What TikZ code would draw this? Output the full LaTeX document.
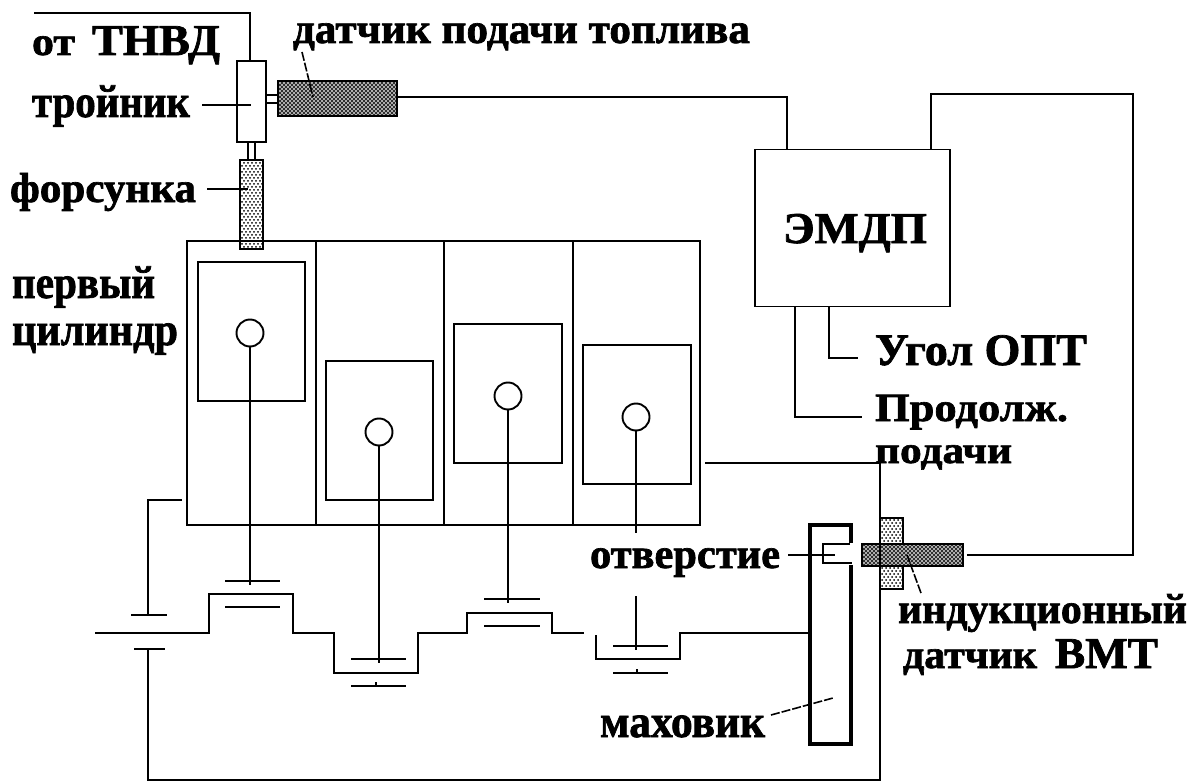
\documentclass[tikz,border=0pt]{standalone}
\usepackage{fontspec}
\usepackage{graphicx}
\setmainfont[BoldFeatures={FakeBold=1.6}]{Liberation Serif}
\usetikzlibrary{patterns}
\pgfdeclarepatternformonly{densedots}{\pgfqpoint{-1pt}{-1pt}}{\pgfqpoint{3pt}{3pt}}{\pgfqpoint{4pt}{4pt}}{%
  \pgfpathcircle{\pgfqpoint{0pt}{0pt}}{1.05pt}\pgfpathcircle{\pgfqpoint{2pt}{2pt}}{1.05pt}\pgfusepath{fill}}
\pgfdeclarepatternformonly{lightdots}{\pgfqpoint{-1pt}{-1pt}}{\pgfqpoint{3pt}{3pt}}{\pgfqpoint{4pt}{6pt}}{%
  \pgfpathcircle{\pgfqpoint{0pt}{0pt}}{1pt}\pgfpathcircle{\pgfqpoint{2pt}{3pt}}{1pt}\pgfusepath{fill}}
\newcommand{\fitw}[2]{\resizebox{#1pt}{\height}{#2}}
\begin{document}
\begin{tikzpicture}[x=1pt,y=-1pt,
  line width=1.9pt,
  wire/.style={line width=1.9pt,line join=miter},
  thin leader/.style={line width=1.6pt},
  dleader/.style={line width=1.6pt,dash pattern=on 9pt off 2pt},
  box/.style={draw,line width=1.9pt,fill=white,inner sep=0,outer sep=0,minimum width=#1},
  dark/.style={draw,line width=1.6pt,inner sep=0,outer sep=0,preaction={fill=black!30},pattern=densedots},
  light/.style={draw,line width=1.9pt,inner sep=0,outer sep=0,preaction={fill=white},pattern=lightdots},
  knob/.style={draw,circle,line width=1.9pt,fill=white,inner sep=0,minimum size=#1},
  plate/.style={line width=1.9pt},
  lab/.style={anchor=base west,inner sep=0,outer sep=0,font=\fontsize{#1}{#1}\selectfont\bfseries},
  lab/.default=42pt]
\useasboundingbox (0,0) rectangle (1189,781);
\fill[white] (0,0) rectangle (1189,781);

% engine block
\node[box=513pt,minimum height=284pt] (engine) at (443.5,383) {};
\coordinate (d1t) at (316,241);\coordinate (d1b) at (316,525);
\coordinate (d2t) at (444,241);\coordinate (d2b) at (444,525);
\coordinate (d3t) at (573,241);\coordinate (d3b) at (573,525);
\draw[wire] (d1t) -- (d1b) (d2t) -- (d2b) (d3t) -- (d3b);

% pistons
\node[box=107pt,minimum height=139pt] (p1) at (251.5,331.5) {};
\node[box=107pt,minimum height=139pt] (p2) at (379.5,430.5) {};
\node[box=108pt,minimum height=139pt] (p3) at (508,393.5) {};
\node[box=108pt,minimum height=139pt] (p4) at (637,414.5) {};
\coordinate (r1) at (250,585);\coordinate (r2) at (379,663);\coordinate (r3) at (508,603);\coordinate (r4) at (636,533);
\draw[wire] (250,333) -- (r1) (379,432) -- (r2) (508,396) -- (r3) (636,417) -- (r4);
\node[knob=27pt] (c1) at (250,333) {};
\node[knob=27pt] (c2) at (379,432) {};
\node[knob=27pt] (c3) at (508,396) {};
\node[knob=27pt] (c4) at (636,417) {};

% tee, injector, fuel sensor
\coordinate (pipeS) at (34,13);
\coordinate (teeIn) at (250,62);
\node[box=29pt,minimum height=81pt] (tee) at (251.5,101.5) {};
\draw[wire] (pipeS) -| (teeIn);
\draw[wire] (248,142) -- (248,160) (255,142) -- (255,160);
\node[light,minimum width=23pt,minimum height=89pt] (inj) at (251.5,204.5) {};
\draw[wire] (engine.north west) -- (engine.north east);
\draw[wire] (266,95) -- (278,95) (266,103) -- (278,103);
\node[dark,minimum width=119pt,minimum height=35pt] (fs) at (337.5,98.5) {};

% EMDP
\node[box=195pt,minimum height=157pt] (emdp) at (852.5,228) {};
\node[lab=44pt] (temdp) at (783,243) {\fitw{144}{ЭМДП}};
\coordinate (e1) at (787,150);\coordinate (e2) at (931,150);
\coordinate (e3) at (795,306);\coordinate (e4) at (829,306);
\coordinate (a3) at (862,417);\coordinate (a4) at (858,358);
\draw[wire] (fs.east |- 0,97) -| (e1);
\draw[wire] (e3) |- (a3);
\draw[wire] (e4) |- (a4);

% inductive sensor
\node[light,minimum width=23pt,minimum height=71pt] (vs) at (891.5,553.5) {};
\node[dark,minimum width=101pt,minimum height=22pt] (hs) at (912.5,555) {};
\coordinate (hsR) at (967,555);
\draw[wire] (e2) |- (1133,94) |- (hsR);

% flywheel
\draw[line width=4pt,line join=miter] (851,543) -- (851,525) -- (810,525) -- (810,744) -- (851,744) -- (851,565);
\coordinate (fw) at (808,633);
\coordinate (hole) at (823,544);
\draw[wire] (850,544) -- (hole) -- (823,563) -- (852,563);

% battery, shaft
\coordinate (bt) at (148,615);\coordinate (bb) at (148,649);
\coordinate (eb) at (182,500);\coordinate (ee) at (705,463);
\draw[wire] (eb) -| (bt);
\draw[wire] (131,615) -- (167,615);
\draw[wire] (134,649) -- (165,649);
\draw[wire] (bb) |- (880,780) -- (880,463) -- (ee);
\coordinate (sh0) at (95,633);\coordinate (sh1) at (584,633);
\draw[wire] (sh0) -- (209,633) -- (209,594) -- (293,594) -- (293,633) -- (334,633) -- (334,673) -- (418,673) -- (418,633) -- (467,633) -- (467,613) -- (552,613) -- (552,633) -- (sh1);
\draw[wire] (596,635) -- (596,659) -- (680,659) -- (680,633) -- (fw);

% plates
\draw[plate] (225,581) -- (280,581) (225,607) -- (280,607);
\draw[plate] (351,659) -- (406,659) (351,686) -- (406,686) (376,682) -- (376,686);
\draw[plate] (484,599) -- (540,599) (484,626) -- (540,626);
\draw[plate] (613,646) -- (668,646) (613,673) -- (668,673) (637,669) -- (637,673);
\draw[wire] (636,596) -- (636,650);

% leaders
\coordinate (l1a) at (202,105);\coordinate (l1b) at (251,105);
\coordinate (l2a) at (207,189);\coordinate (l2b) at (248,189);
\coordinate (l3a) at (302,52);\coordinate (l3b) at (313,97);
\coordinate (l4a) at (788,555);\coordinate (l4b) at (835,555);
\coordinate (l5a) at (771,715);\coordinate (l5b) at (833,698);
\coordinate (l6a) at (907,555);\coordinate (l6b) at (921,593);
\draw[thin leader] (l1a) -- (l1b) (l2a) -- (l2b) (l4a) -- (l4b);
\draw[dleader] (l3a) -- (l3b);
\draw[dleader] (l5a) -- (l5b);
\draw[dleader] (l6b) -- (l6a);

% labels
\node[lab=40pt] (t1) at (32,55) {\fitw{43}{от}};
\node[lab=44pt] (t2) at (92,55) {\fitw{128}{ТНВД}};
\node[lab=42pt] (t3) at (293,43) {\fitw{457}{датчик подачи топлива}};
\node[lab=46pt] (t4) at (32,117) {\fitw{158}{тройник}};
\node[lab=42pt] (t5) at (10,202) {\fitw{186}{форсунка}};
\node[lab=46pt] (t6) at (12,298) {\fitw{143}{первый}};
\node[lab=46pt] (t7) at (12,345) {\fitw{166}{цилиндр}};
\node[lab=45pt] (t8) at (875,365) {\fitw{212}{Угол ОПТ}};
\node[lab=40pt] (t9) at (875,421) {\fitw{193}{Продолж.}};
\node[lab=38pt] (t10) at (875,463) {\fitw{137}{подачи}};
\node[lab=42pt] (t11) at (590,568) {\fitw{190}{отверстие}};
\node[lab=42pt] (t12) at (898,623) {\fitw{289}{индукционный}};
\node[lab=40pt] (t13) at (903,668) {\fitw{134}{датчик}};
\node[lab=44pt] (t13b) at (1055,668) {\fitw{103}{ВМТ}};
\node[lab=46pt] (t14) at (600,737) {\fitw{165}{маховик}};
\end{tikzpicture}
\end{document}
